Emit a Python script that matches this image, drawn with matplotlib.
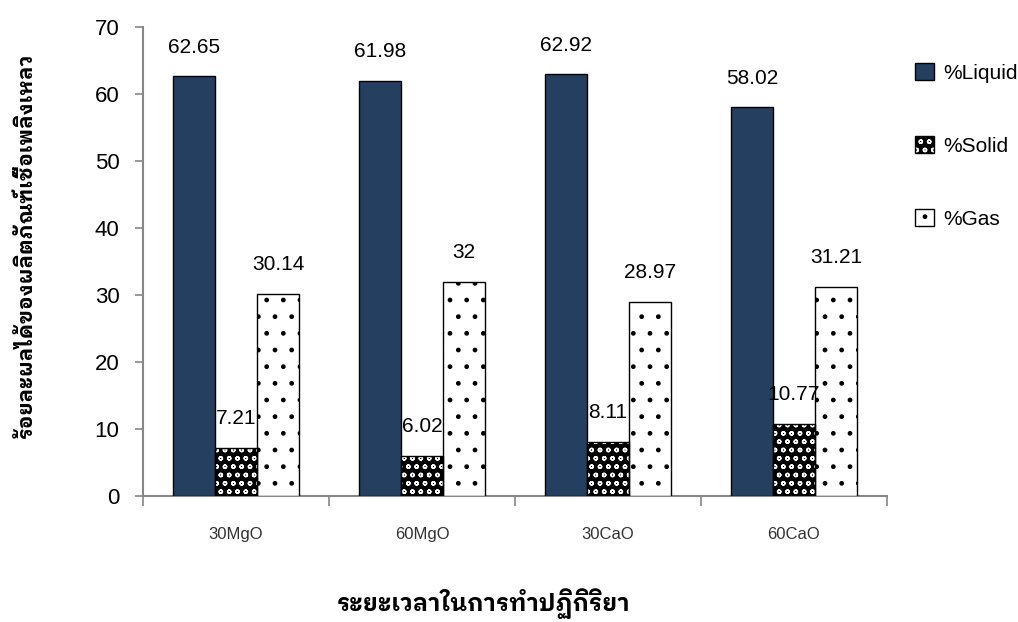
import matplotlib
matplotlib.use("Agg")
import matplotlib.pyplot as plt
import numpy as np
from matplotlib.patches import Patch

# Product yields (%) for each catalyst condition
categories = ["30MgO", "60MgO", "30CaO", "60CaO"]
liquid = [62.65, 61.98, 62.92, 58.02]
solid = [7.21, 6.02, 8.11, 10.77]
gas = [30.14, 32, 28.97, 31.21]
series_names = ["%Liquid", "%Solid", "%Gas"]
value_labels = [["62.65", "61.98", "62.92", "58.02"],
                ["7.21", "6.02", "8.11", "10.77"],
                ["30.14", "32", "28.97", "31.21"]]

ylabel = "ร้อยละผลได้ของผลิตภัณฑ์เชื้อเพลิงเหลว"
xlabel = "ระยะเวลาในการทำปฏิกิริยา"

LATIN = "Liberation Sans"
THAI = ["IBM Plex Sans Thai Looped", "DejaVu Sans"]
AXIS_GREY = "#868686"
NAVY = "#243F60"
SOLID_HATCH = "oo"
SOLID_HATCH_LW = 1.0

plt.rcParams["font.family"] = [LATIN, "DejaVu Sans"]

fig = plt.figure(figsize=(10.18, 6.22), dpi=100)
ax = fig.add_axes([143 / 1018, 1 - 496 / 622, (887 - 143) / 1018, (496 - 27) / 622])

x = np.arange(len(categories))
w = 0.226


def solid_fill(**kw):
    # black ground with small white ovals
    with plt.rc_context({"hatch.linewidth": SOLID_HATCH_LW}):
        return Patch(facecolor="black", edgecolor="white", hatch=SOLID_HATCH, linewidth=0, **kw)


# Liquid: plain navy fill
ax.bar(x - w, liquid, w, color=NAVY, edgecolor="black", linewidth=1.0, zorder=3)
# Solid: black with white oval pattern, then a black outline on top
with plt.rc_context({"hatch.linewidth": SOLID_HATCH_LW}):
    ax.bar(x, solid, w, color="black", edgecolor="white", hatch=SOLID_HATCH, linewidth=0, zorder=3)
ax.bar(x, solid, w, fill=False, edgecolor="black", linewidth=1.0, zorder=4)
# Gas: white with sparse black dots
ax.bar(x + w, gas, w, color="white", edgecolor="black", hatch=".", linewidth=1.0, zorder=3)

# Value labels above each bar
for offs, vals, labs in zip((-w, 0, w), (liquid, solid, gas), value_labels):
    for xi, v, lab in zip(x, vals, labs):
        ax.annotate(lab, (xi + offs, v), xytext=(0, 17), textcoords="offset points",
                    ha="center", va="baseline", fontsize=15, color="black", zorder=5)

ax.set_xlim(-0.5, len(categories) - 0.5)
ax.set_ylim(0, 70)
ax.set_yticks(np.arange(0, 71, 10))
ax.tick_params(axis="y", length=6, width=1.2, color=AXIS_GREY, labelsize=16, pad=11)

ax.set_xticks(x)
ax.set_xticklabels(categories, fontsize=12, color="#333333")
ax.set_xticks(np.arange(-0.5, len(categories), 1.0), minor=True)
ax.tick_params(axis="x", which="major", length=0, pad=22)
ax.tick_params(axis="x", which="minor", length=7, width=1.2, color=AXIS_GREY, direction="out")

for side in ("top", "right"):
    ax.spines[side].set_visible(False)
for side in ("left", "bottom"):
    ax.spines[side].set_color(AXIS_GREY)
    ax.spines[side].set_linewidth(1.5)

# Axis titles in Thai
fig.text(26 / 1018, 1 - 245 / 622, ylabel, rotation=90, ha="center", va="center",
         fontsize=15, fontweight="bold", family=THAI)
fig.text(484 / 1018, 1 - 604 / 622, xlabel, ha="center", va="center",
         fontsize=17, fontweight="bold", family=THAI)

# Legend on the right
handles = [
    Patch(facecolor=NAVY, edgecolor="black", linewidth=1.0),
    (solid_fill(), Patch(fill=False, edgecolor="black", linewidth=1.0)),
    Patch(facecolor="white", edgecolor="black", hatch=".", linewidth=1.0),
]
fig.legend(handles, series_names, loc="upper left", bbox_to_anchor=(915 / 1018, 1 - 63 / 622),
           frameon=False, fontsize=15, handlelength=0.9, handleheight=0.9,
           handletextpad=0.45, labelspacing=2.55, borderpad=0, borderaxespad=0)

fig.savefig("out.png", dpi=100)
